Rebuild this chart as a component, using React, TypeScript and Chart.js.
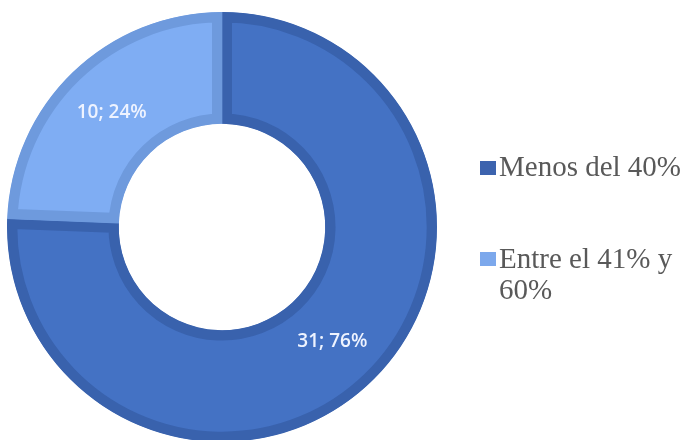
import React, { useEffect, useRef } from "react";
import { Chart, registerables } from "chart.js";

Chart.register(...registerables);

const categories = ["Menos del 40%", "Entre el 41% y 60%"];
const values = [31, 10];
const percents = ["76%", "24%"];
const fillColors = ["#4472C4", "#7FADF3"];
const borderColors = ["#3962AD", "#6E9ADD"];
const legendColors = ["#3C63AE", "#7CA8EC"];

const labelPlugin = {
  id: "sliceLabels",
  afterDatasetsDraw(chart: any) {
    const ctx = chart.ctx;
    const meta = chart.getDatasetMeta(0);
    ctx.save();
    ctx.font = "600 19px 'Open Sans', 'Liberation Sans', sans-serif";
    ctx.fillStyle = "#EEF3FF";
    ctx.textAlign = "center";
    ctx.textBaseline = "middle";
    meta.data.forEach((arc: any, i: number) => {
      const p = arc.tooltipPosition();
      ctx.fillText(`${values[i]}; ${percents[i]}`, p.x, p.y);
    });
    ctx.restore();
  },
};

export default function App() {
  const ref = useRef<HTMLCanvasElement | null>(null);
  useEffect(() => {
    if (!ref.current) return;
    const chart = new Chart(ref.current, {
      type: "doughnut",
      data: {
        labels: categories,
        datasets: [
          {
            data: values,
            backgroundColor: fillColors,
            borderColor: borderColors,
            borderWidth: 10,
            borderAlign: "inner",
            hoverBorderWidth: 10,
          } as any,
        ],
      },
      options: {
        responsive: false,
        animation: false,
        cutout: "48%",
        layout: { padding: { left: 7, top: 12, right: 255, bottom: 18 } },
        plugins: { legend: { display: false }, tooltip: { enabled: false } },
        events: [],
      },
      plugins: [labelPlugin],
    });
    return () => chart.destroy();
  }, []);

  const textStyle: React.CSSProperties = {
    position: "absolute",
    left: 499,
    fontFamily: "'Liberation Serif', 'Times New Roman', serif",
    fontSize: 29,
    lineHeight: "31px",
    color: "#595959",
    whiteSpace: "nowrap",
  };

  return (
    <div
      style={{
        position: "absolute",
        left: 0,
        top: 0,
        width: 692,
        height: 440,
        overflow: "hidden",
        background: "#fff",
      }}
    >
      <canvas ref={ref} width={692} height={460} style={{ position: "absolute", left: 0, top: 0 }} />
      <div style={{ position: "absolute", left: 480, top: 161, width: 16, height: 14, background: legendColors[0] }} />
      <div style={{ ...textStyle, top: 151 }}>{categories[0]}</div>
      <div style={{ position: "absolute", left: 480, top: 252, width: 16, height: 14, background: legendColors[1] }} />
      <div style={{ ...textStyle, top: 243 }}>
        Entre el 41% y
        <br />
        60%
      </div>
    </div>
  );
}
